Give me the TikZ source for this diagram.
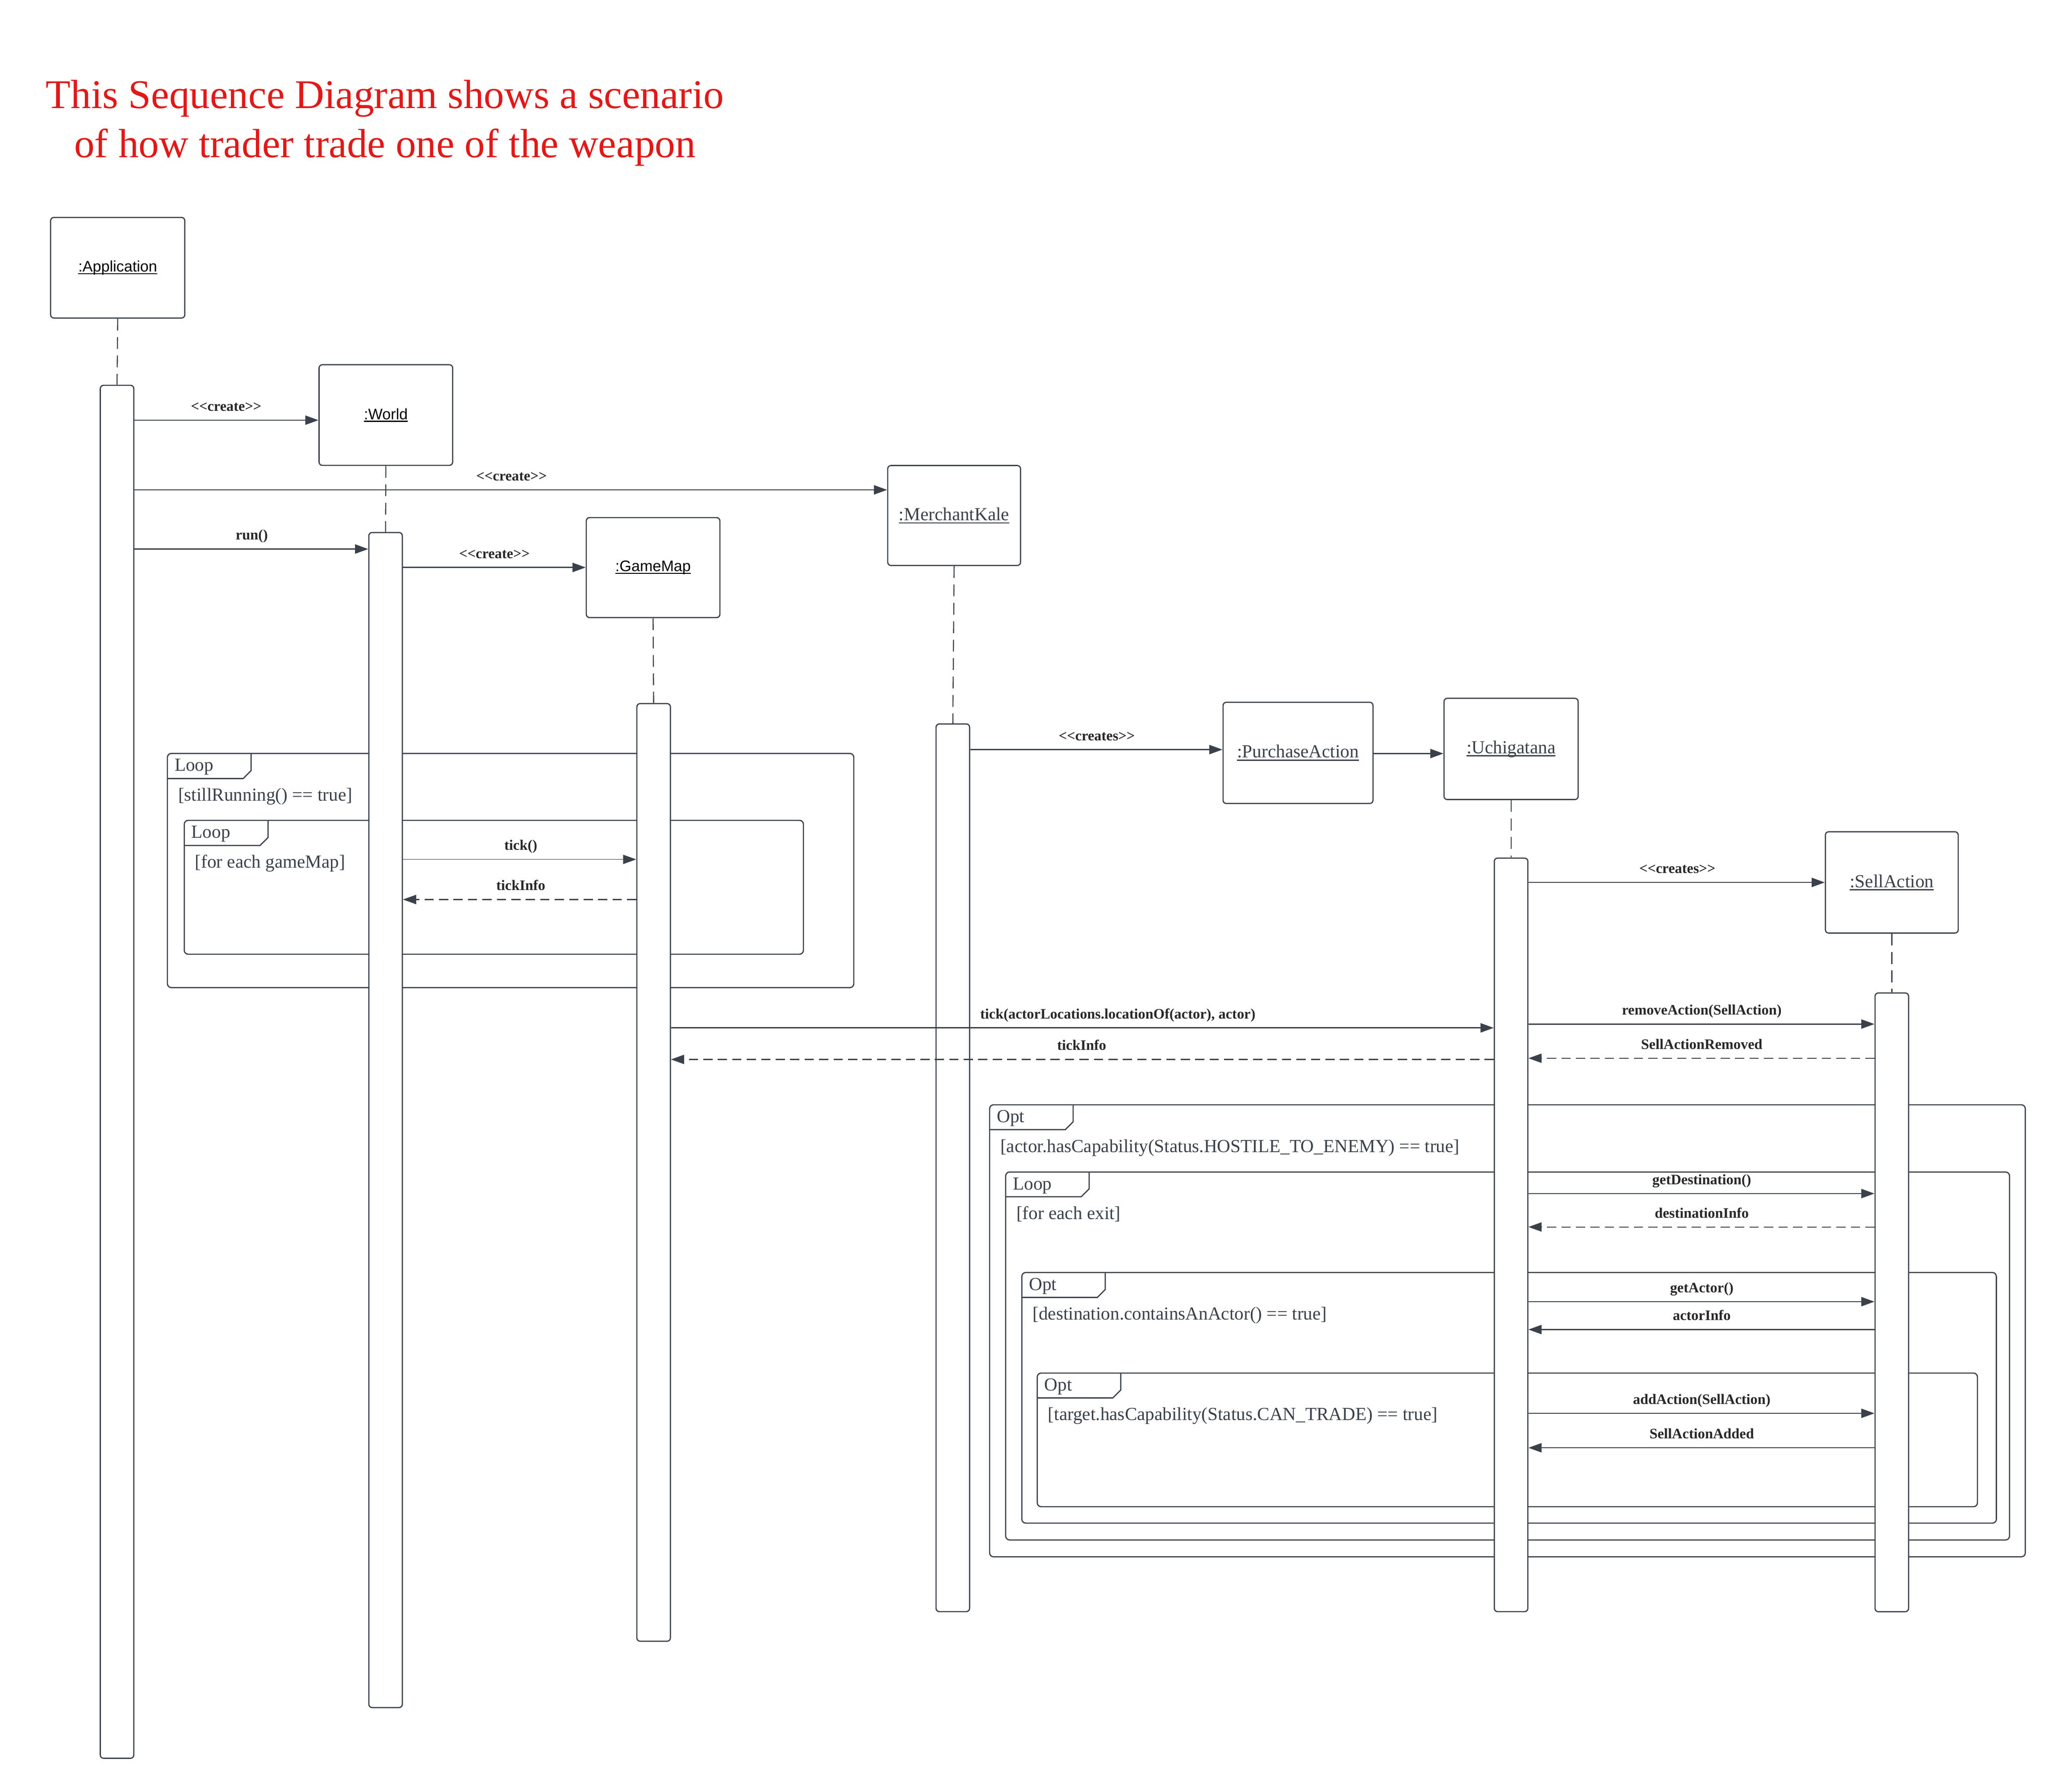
\documentclass[tikz,border=0pt]{standalone}
\usepackage{fontspec}
\setmainfont{Liberation Serif}
\setsansfont{Liberation Sans}
\usetikzlibrary{arrows.meta}
\definecolor{lc}{RGB}{58,65,74}
\definecolor{mtxt}{RGB}{40,40,40}
\definecolor{titlered}{RGB}{226,24,24}
\newcommand{\umlfrag}[9]{%
  \draw[frame] (#2,#3) rectangle (#4,#5);
  \draw[tabline] (#2,#7) -- (#6-6,#7) -- (#6,#7-6) -- (#6,#3);
  \node[flab] (#1k) at (#2+5.3,#3+13.5) {#8};
  \node[flab] (#1g) at (#2+8,#3+36) {#9};
}
\newcommand{\ulbox}[2]{\setbox0=\hbox{#2}\leavevmode\rlap{\rule[#1]{\wd0}{0.85pt}}\box0}
\begin{document}
\begin{tikzpicture}[x=1pt,y=-1pt,
  head/.style={draw=lc, line width=0.9pt, rounded corners=2.5pt, fill=white, inner sep=0pt},
  sanslab/.style={font=\sffamily\fontsize{11.6}{14}\selectfont, text=black},
  seriflab/.style={font=\fontsize{14}{17}\selectfont, text=lc},
  act/.style={draw=lc, line width=0.9pt, rounded corners=2.5pt, fill=white, minimum width=25.5pt, inner sep=0pt},
  life/.style={draw=lc, line width=0.8pt, dash pattern=on 9pt off 5pt},
  msg/.style={draw=lc, line width=0.9pt, -{Triangle[length=10pt,width=7pt]}},
  ret/.style={msg, line width=0.8pt, dash pattern=on 7pt off 4pt},
  mlab/.style={font=\bfseries\fontsize{11}{13}\selectfont, text=mtxt, anchor=base, inner sep=0pt},
  frame/.style={draw=lc, line width=0.9pt, rounded corners=3pt},
  tabline/.style={draw=lc, line width=0.9pt},
  flab/.style={font=\fontsize{14}{16}\selectfont, text=lc, anchor=base west, inner sep=0pt},
  ttl/.style={font=\fontsize{31}{37}\selectfont, text=titlered, anchor=base, inner sep=0pt},
]
\useasboundingbox (0,0) rectangle (1566.4,1362.6);

% title
\node[ttl] (t1) at (292.7,82.5) {This Sequence Diagram shows a scenario};
\node[ttl] (t2) at (292.7,119.8) {of how trader trade one of the weapon};

% combined fragments
\umlfrag{fa}{127.3}{572.9}{649.2}{751}{190.9}{592}{Loop}{[stillRunning() == true]}
\umlfrag{fb}{140.1}{623.8}{610.9}{725.6}{203.8}{642.9}{Loop}{[for each gameMap]}
\umlfrag{fc}{752.5}{840.1}{1540}{1183.8}{816}{859}{Opt}{[actor.hasCapability(Status.HOSTILE\_TO\_ENEMY) == true]}
\umlfrag{fd}{764.7}{891.2}{1528}{1171}{828.2}{910}{Loop}{[for each exit]}
\umlfrag{fe}{777}{967.6}{1518}{1158.2}{840.4}{986.6}{Opt}{[destination.containsAnActor() == true]}
\umlfrag{ff}{788.7}{1044.1}{1503.6}{1145.7}{852.2}{1063}{Opt}{[target.hasCapability(Status.CAN\_TRADE) == true]}

% lifeline heads
\node[head, minimum width=102pt, minimum height=76.5pt, sanslab] (app) at (89.5,203.6) {\ulbox{-1.9pt}{:Application}};
\node[head, minimum width=101.6pt, minimum height=76.5pt, sanslab] (world) at (293.4,315.6) {\ulbox{-1.9pt}{:World}};
\node[head, minimum width=101.6pt, minimum height=76pt, sanslab] (gamemap) at (496.6,431.6) {\ulbox{-1.9pt}{:GameMap}};
\node[head, minimum width=101pt, minimum height=76pt, seriflab] (merchant) at (725.5,392) {\ulbox{-2.3pt}{:MerchantKale}};
\node[head, minimum width=114pt, minimum height=77pt, seriflab] (purchase) at (987,572.5) {\ulbox{-2.3pt}{:PurchaseAction}};
\node[head, minimum width=102pt, minimum height=77pt, seriflab] (uchi) at (1149,569.5) {\ulbox{-2.3pt}{:Uchigatana}};
\node[head, minimum width=101pt, minimum height=77pt, seriflab] (sell) at (1438.5,671) {\ulbox{-2.3pt}{:SellAction}};

% activation bars
\node[act, minimum height=1044pt] (appact) at (89,815) {};
\node[act, minimum height=893.5pt] (worldact) at (293.2,851.7) {};
\node[act, minimum height=713pt] (gmact) at (497,891.5) {};
\node[act, minimum height=675pt] (mkact) at (724.5,888) {};
\node[act, minimum height=573pt] (uchiact) at (1149,939) {};
\node[act, minimum height=470.5pt] (sellact) at (1438.5,990.3) {};

% lifelines
\draw[life] (app.south) -- (appact.north);
\draw[life] (world.south) -- (worldact.north);
\draw[life] (gamemap.south) -- (gmact.north);
\draw[life] (merchant.south) -- (mkact.north);
\draw[life] (uchi.south) -- (uchiact.north);
\draw[life] (sell.south) -- (sellact.north);

% messages
\draw[msg] (appact.east |- 0,319.5) -- (world.west |- 0,319.5);
\node[mlab] (l1) at (172,312.5) {<{}<create>{}>};
\draw[msg] (appact.east |- 0,372.5) -- (merchant.west |- 0,372.5);
\node[mlab] (l2) at (389,365.5) {<{}<create>{}>};
\draw[msg] (appact.east |- 0,417.5) -- (worldact.west |- 0,417.5);
\node[mlab] (l3) at (191.5,410.5) {run()};
\draw[msg] (worldact.east |- 0,431.5) -- (gamemap.west |- 0,431.5);
\node[mlab] (l4) at (376,424.5) {<{}<create>{}>};
\draw[msg, line width=0.6pt] (worldact.east |- 0,653.5) -- (gmact.west |- 0,653.5);
\node[mlab] (l5) at (396,646.5) {tick()};
\draw[ret] (gmact.west |- 0,684) -- (worldact.east |- 0,684);
\node[mlab] (l6) at (396,677) {tickInfo};
\draw[msg] (mkact.east |- 0,570) -- (purchase.west |- 0,570);
\node[mlab] (l7) at (834,563) {<{}<creates>{}>};
\draw[msg] (purchase.east |- 0,573) -- (uchi.west |- 0,573);
\draw[msg] (uchiact.east |- 0,671) -- (sell.west |- 0,671);
\node[mlab] (l8) at (1275.5,664) {<{}<creates>{}>};
\draw[msg] (gmact.east |- 0,781.6) -- (uchiact.west |- 0,781.6);
\node[mlab] (l9) at (850,774.6) {tick(actorLocations.locationOf(actor), actor)};
\draw[ret] (uchiact.west |- 0,805.6) -- (gmact.east |- 0,805.6);
\node[mlab] (l10) at (822.5,798.6) {tickInfo};
\draw[msg] (uchiact.east |- 0,778.7) -- (sellact.west |- 0,778.7);
\node[mlab] (l11) at (1294,771.7) {removeAction(SellAction)};
\draw[ret] (sellact.west |- 0,804.7) -- (uchiact.east |- 0,804.7);
\node[mlab] (l12) at (1294,797.7) {SellActionRemoved};
\draw[msg] (uchiact.east |- 0,907.6) -- (sellact.west |- 0,907.6);
\node[mlab] (l13) at (1294,900.6) {getDestination()};
\draw[ret] (sellact.west |- 0,933) -- (uchiact.east |- 0,933);
\node[mlab] (l14) at (1294,926) {destinationInfo};
\draw[msg] (uchiact.east |- 0,989.8) -- (sellact.west |- 0,989.8);
\node[mlab] (l15) at (1294,982.8) {getActor()};
\draw[msg] (sellact.west |- 0,1011) -- (uchiact.east |- 0,1011);
\node[mlab] (l16) at (1294,1004) {actorInfo};
\draw[msg] (uchiact.east |- 0,1074.7) -- (sellact.west |- 0,1074.7);
\node[mlab] (l17) at (1294,1067.7) {addAction(SellAction)};
\draw[msg] (sellact.west |- 0,1100.9) -- (uchiact.east |- 0,1100.9);
\node[mlab] (l18) at (1294,1093.9) {SellActionAdded};
\end{tikzpicture}
\end{document}
